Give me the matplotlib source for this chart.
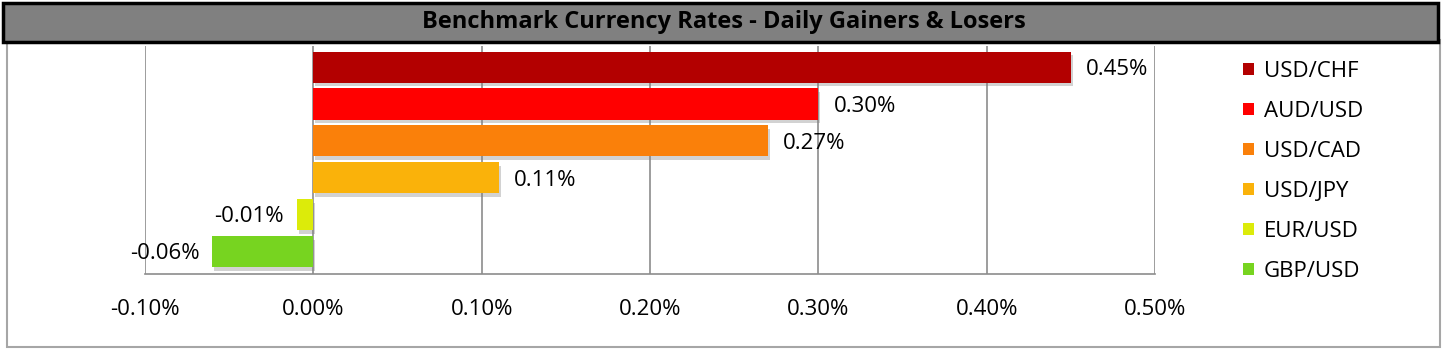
import matplotlib
matplotlib.use("Agg")
import matplotlib.pyplot as plt
from matplotlib.patches import Rectangle
from matplotlib.ticker import FuncFormatter
import matplotlib.patheffects as pe

pairs = ["USD/CHF", "AUD/USD", "USD/CAD", "USD/JPY", "EUR/USD", "GBP/USD"]
changes = [0.45, 0.30, 0.27, 0.11, -0.01, -0.06]
colors = ["#B30000", "#FF0000", "#FA800A", "#FAB20A", "#DCEB0A", "#77D420"]
xticks = [-0.10, 0.00, 0.10, 0.20, 0.30, 0.40, 0.50]
title = "Benchmark Currency Rates - Daily Gainers & Losers"

plt.rcParams['font.family'] = ['Open Sans', 'DejaVu Sans']

W, H = 1443, 353
fig = plt.figure(figsize=(W / 100, H / 100), dpi=100)

# outer frame
fig.patches.append(Rectangle((7 / W, (H - 347) / H), (1440 - 7) / W, (347 - 40) / H,
                             transform=fig.transFigure, facecolor="white",
                             edgecolor="#A6A6A6", lw=1.5, zorder=-10))
# title box
fig.patches.append(Rectangle((3 / W, (H - 42) / H), (1438 - 3) / W, (42 - 3) / H,
                             transform=fig.transFigure, facecolor="#808080",
                             edgecolor="black", lw=2.5, zorder=-5))
fig.text(724 / W, (H - 22) / H, title, ha="center", va="center",
         fontsize=17, fontweight="bold", color="black")

ax = fig.add_axes([145 / W, (H - 274) / H, (1155 - 145) / W, (274 - 46) / H])
ax.set_facecolor("none")
n = len(pairs)
ypos = list(range(n))
bars = ax.barh(ypos, changes, height=0.84, color=colors, zorder=3,
               path_effects=[pe.SimplePatchShadow(offset=(1.5, -2.5), shadow_rgbFace="#808080", alpha=0.35),
                             pe.Normal()])
ax.set_ylim(n - 0.4, -0.57)
ax.set_xlim(xticks[0], xticks[-1])
ax.set_xticks(xticks)
ax.xaxis.set_major_formatter(FuncFormatter(lambda v, p: f"{v:.2f}%"))
ax.set_yticks([])
ax.tick_params(axis="x", length=0, pad=18, labelsize=16, colors="black")
ax.grid(axis="x", color="#8C8C8C", lw=1.2, zorder=1)
for s in ["top", "right", "left"]:
    ax.spines[s].set_visible(False)
ax.spines["bottom"].set_color("#8C8C8C")
ax.spines["bottom"].set_linewidth(1.2)

for y, v in zip(ypos, changes):
    if v >= 0:
        ax.annotate(f"{v:.2f}%", (v, y), xytext=(11, -1.5), textcoords="offset points",
                    ha="left", va="center", fontsize=16)
    else:
        ax.annotate(f"{v:.2f}%", (v, y), xytext=(-9, -1.5), textcoords="offset points",
                    ha="right", va="center", fontsize=16)

handles = [Rectangle((0, 0), 1, 1, facecolor=c) for c in colors]
fig.legend(handles, pairs, loc="upper left", bbox_to_anchor=(1243 / W, (H - 61) / H),
           frameon=False, fontsize=16, handlelength=0.5, handleheight=0.5,
           handletextpad=0.45, labelspacing=0.855, borderaxespad=0, borderpad=0)

fig.savefig("out.png", dpi=100)
